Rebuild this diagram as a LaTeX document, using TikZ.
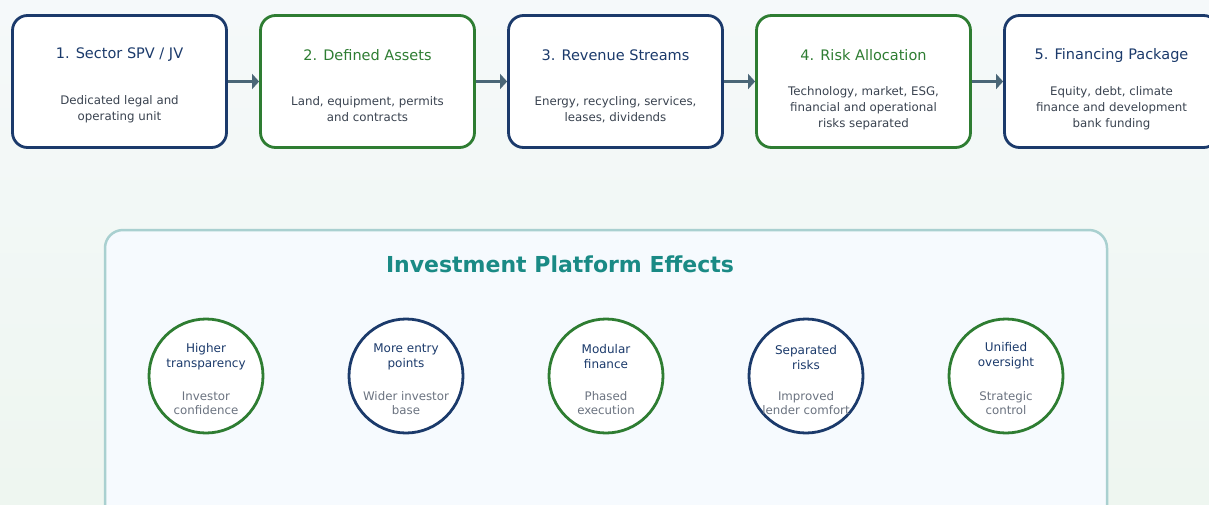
\documentclass[tikz,border=0pt]{standalone}
\usepackage{fontspec}
\setmainfont{DejaVu Sans}
\usetikzlibrary{arrows.meta, positioning}

\definecolor{navy}{HTML}{1B3A6B}
\definecolor{leaf}{HTML}{2E7D32}
\definecolor{platteal}{HTML}{1A8A85}
\definecolor{flowgray}{HTML}{4A6677}
\definecolor{desc}{HTML}{3A4350}
\definecolor{sub}{HTML}{6B7380}
\definecolor{panelline}{HTML}{A9D0D0}
\definecolor{panelfill}{HTML}{F6FAFE}

\begin{document}
\begin{tikzpicture}[x=1pt, y=-1pt, node distance={248pt}, on grid,
	stage/.style = {draw, rounded corners=15pt, line width=2.8pt, fill=white, minimum width=214pt, minimum height=132pt},
	head/.style = {font=\fontsize{14.5}{17}\selectfont},
	info/.style = {align=center, text=desc, font=\fontsize{11.8}{16}\selectfont},
	effect/.style = {draw, circle, line width=2.8pt, fill=white, minimum size=114pt},
	gain/.style = {align=center, text=navy, font=\fontsize{12}{15}\selectfont},
	result/.style = {align=center, text=sub, font=\fontsize{11.8}{14}\selectfont}]
	\useasboundingbox (0,0) rectangle (1209,504);
	\clip (0,0) rectangle (1209,504);
	\shade[top color={rgb,255:red,245;green,249;blue,250}, bottom color={rgb,255:red,238;green,246;blue,240}] (0,0) rectangle (1209,504);
	% process chain
	\node[stage, draw=navy] (s1) at (119.5,81.5) {};
	\node[stage, draw=leaf] (s2) [right of=s1] {};
	\node[stage, draw=navy] (s3) [right of=s2] {};
	\node[stage, draw=leaf] (s4) [right of=s3] {};
	\node[stage, draw=navy] (s5) [right of=s4] {};
	\node[head, text=navy] (t1) at ([yshift=26.5pt]s1.center) {1. Sector SPV / JV};
	\node[head, text=leaf] (t2) at ([yshift=26.5pt]s2.center) {2. Defined Assets};
	\node[head, text=navy] (t3) at ([yshift=26.5pt]s3.center) {3. Revenue Streams};
	\node[head, text=leaf] (t4) at ([yshift=26.5pt]s4.center) {4. Risk Allocation};
	\node[head, text=navy] (t5) at ([yshift=26.5pt]s5.center) {5. Financing Package};
	\node[info] (d1) at ([yshift=-28pt]s1.center) {Dedicated legal and\\operating unit};
	\node[info] (d2) at ([yshift=-28pt]s2.center) {Land, equipment, permits\\and contracts};
	\node[info] (d3) at ([yshift=-28pt]s3.center) {Energy, recycling, services,\\leases, dividends};
	\node[info] (d4) at ([yshift=-27pt]s4.center) {Technology, market, ESG,\\financial and operational\\risks separated};
	\node[info] (d5) at ([yshift=-27pt]s5.center) {Equity, debt, climate\\finance and development\\bank funding};
	\path[-{Triangle[length=7pt, width=15pt]}, draw, flowgray, line width=3pt]
	(s1) edge (s2)
	(s2) edge (s3)
	(s3) edge (s4)
	(s4) edge (s5);
	% effects panel
	\draw[panelline, fill=panelfill, line width=2.5pt, rounded corners=18pt] (105,230) rectangle (1107,530);
	\node[font=\bfseries\fontsize{22}{26}\selectfont, text=platteal] (p) at (560,264) {Investment Platform Effects};
	\node[effect, draw=leaf] (c1) at (206,376) {};
	\node[effect, draw=navy] (c2) [right=200pt of c1] {};
	\node[effect, draw=leaf] (c3) [right=200pt of c2] {};
	\node[effect, draw=navy] (c4) [right=200pt of c3] {};
	\node[effect, draw=leaf] (c5) [right=200pt of c4] {};
	\node[gain] (g1) at ([yshift=19pt]c1.center) {Higher\\transparency};
	\node[gain] (g2) at ([yshift=19pt]c2.center) {More entry\\points};
	\node[gain] (g3) at ([yshift=19pt]c3.center) {Modular\\finance};
	\node[gain] (g4) at ([yshift=18.5pt]c4.center) {Separated\\risks};
	\node[gain] (g5) at ([yshift=20pt]c5.center) {Unified\\oversight};
	\node[result] (r1) at ([yshift=-27pt]c1.center) {Investor\\confidence};
	\node[result] (r2) at ([yshift=-27pt]c2.center) {Wider investor\\base};
	\node[result] (r3) at ([yshift=-27pt]c3.center) {Phased\\execution};
	\node[result] (r4) at ([yshift=-27.5pt]c4.center) {Improved\\lender comfort};
	\node[result] (r5) at ([yshift=-27.5pt]c5.center) {Strategic\\control};
\end{tikzpicture}
\end{document}
